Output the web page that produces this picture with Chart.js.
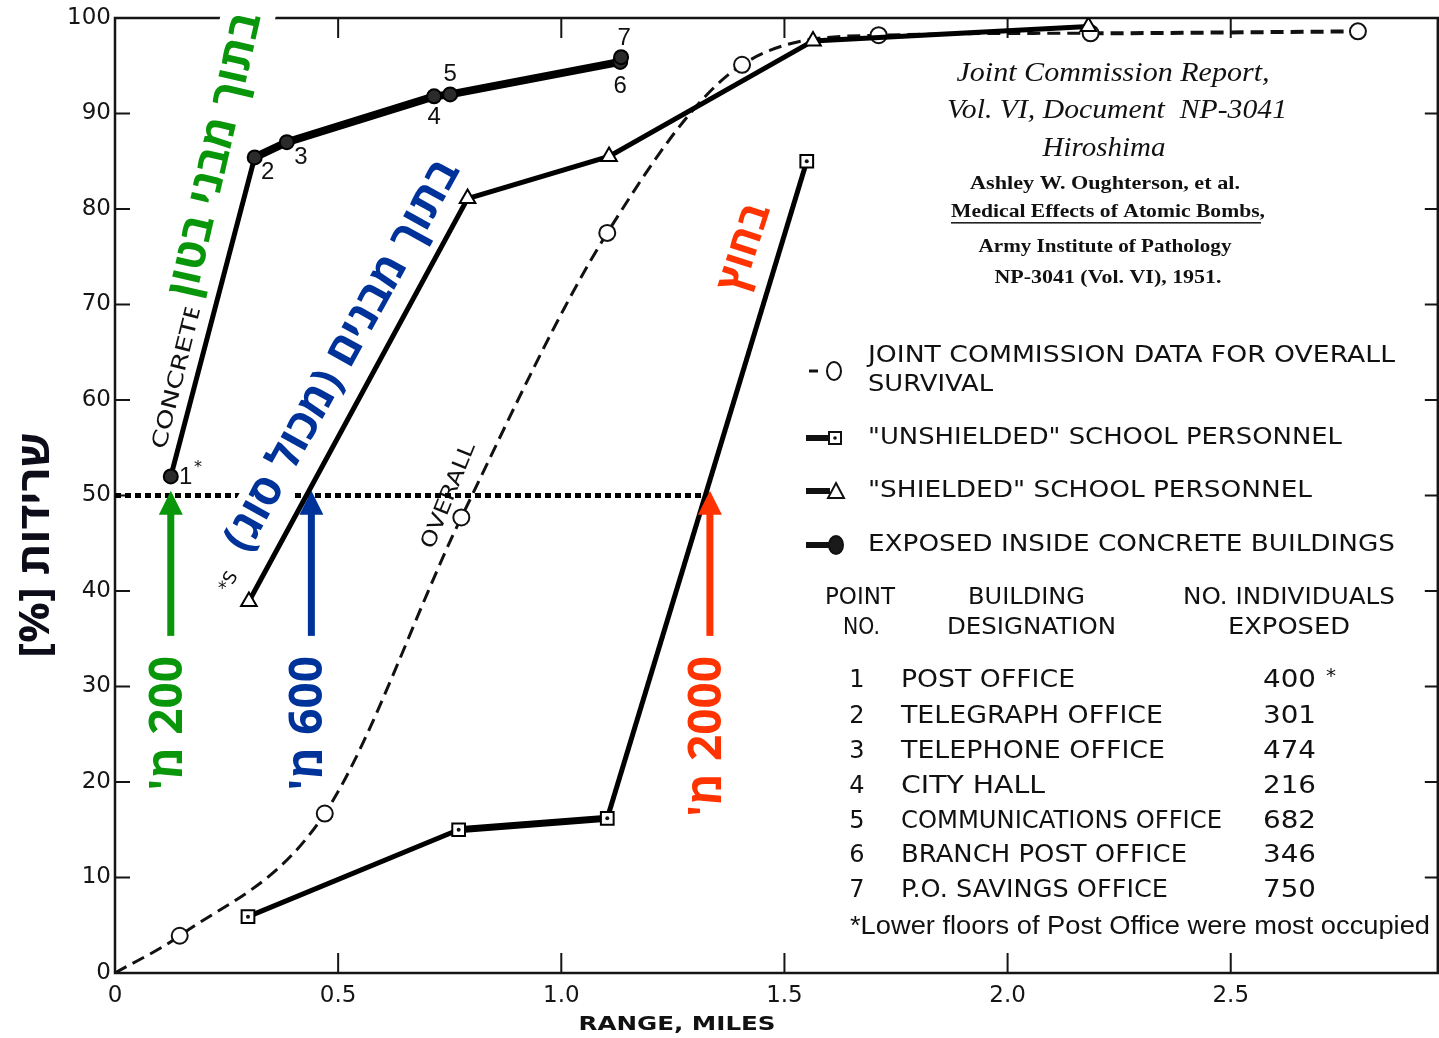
<!DOCTYPE html>
<html>
<head>
<meta charset="utf-8">
<script src="https://cdn.jsdelivr.net/npm/chart.js@4.4.0/dist/chart.umd.min.js"></script>
<style>
  html, body { margin: 0; padding: 0; background: #fff; }
</style>
</head>
<body>
<canvas id="chart" width="1439" height="1038"></canvas>
<script>
// survival (%) against range from ground zero, Hiroshima
const overallX = [0, 0.145, 0.47, 0.776, 1.103, 1.405, 1.711, 2.186, 2.785];
const overallY = [0, 3.9, 16.7, 47.7, 77.5, 95.1, 98.2, 98.4, 98.6];

const unshieldedX = [0.298, 0.77, 1.103, 1.55];
const unshieldedY = [5.9, 15.0, 16.2, 85.0];

const shieldedX = [0.30, 0.79, 1.107, 1.564, 2.181];
const shieldedY = [38.9, 81.1, 85.5, 97.6, 99.1];

const concreteX = [0.125, 0.313, 0.385, 0.715, 0.751, 1.132, 1.134];
const concreteY = [52.0, 85.4, 87.0, 91.8, 92.0, 95.4, 95.9];
const concreteNums = ["1", "2", "3", "4", "5", "6", "7"];

// 50% survival line and the ranges where it is reached
const halfX = [0, 1.331];
const halfY = [50, 50];
const arrowX = [0.125, 0.44, 1.333];
const arrowFrom = 35.3;
const arrowTo = 50.5;
const arrowLabels = ["200 מ'", "600 מ'", "2000 מ'"];

const xTicks = [0.5, 1.0, 1.5, 2.0, 2.5];
const yTicks = [10, 20, 30, 40, 50, 60, 70, 80, 90];
const xEdge = 2.964; // where the frame of the original plot ends

const pointNos = ["1", "2", "3", "4", "5", "6", "7"];
const buildings = ["POST OFFICE", "TELEGRAPH OFFICE", "TELEPHONE OFFICE", "CITY HALL",
  "COMMUNICATIONS OFFICE", "BRANCH POST OFFICE", "P.O. SAVINGS OFFICE"];
const exposed = ["400", "301", "474", "216", "682", "346", "750"];

const pts = (xs, ys) => xs.map((x, i) => ({ x: x, y: ys[i] }));

const GREEN = "#0a960a", BLUE = "#003399", RED = "#ff3300";
const HEB = "'Open Sans', 'DejaVu Sans', sans-serif";

// draw a (maybe rotated) string stretched to a given length
function label(ctx, str, x, y, o) {
  ctx.save();
  ctx.translate(x, y);
  ctx.rotate((o.angle || 0) * Math.PI / 180);
  ctx.font = o.font;
  ctx.direction = o.rtl ? "rtl" : "ltr";
  ctx.textAlign = o.align || "center";
  ctx.textBaseline = "middle";
  const w = ctx.measureText(str).width;
  const s = o.len ? o.len / w : 1;
  if (o.box) {
    ctx.fillStyle = "#fff";
    ctx.fillRect(-w * s / 2 - o.box[0], -o.box[1], w * s + 2 * o.box[0], 2 * o.box[1]);
  }
  ctx.scale(s, 1);
  ctx.fillStyle = o.color || "#111";
  ctx.fillText(str, 0, 0);
  ctx.restore();
}

const decor = {
  id: "decor",
  beforeDatasetsDraw(chart) {
    const { ctx, chartArea: a, scales: { x, y } } = chart;
    const right = x.getPixelForValue(xEdge);
    ctx.save();
    ctx.strokeStyle = "#151515";
    ctx.lineWidth = 2.5;
    ctx.strokeRect(a.left, a.top, right - a.left, a.bottom - a.top);
    ctx.lineWidth = 2;
    ctx.beginPath();
    xTicks.forEach(v => {
      const px = x.getPixelForValue(v);
      ctx.moveTo(px, a.bottom); ctx.lineTo(px, a.bottom - 20);
      ctx.moveTo(px, a.top); ctx.lineTo(px, a.top + 20);
    });
    yTicks.forEach(v => {
      const py = y.getPixelForValue(v);
      ctx.moveTo(a.left, py); ctx.lineTo(a.left + 15, py);
      ctx.moveTo(right, py); ctx.lineTo(right - 13, py);
    });
    ctx.stroke();
    ctx.restore();

    // small lettering along the curves
    const f = "21px 'DejaVu Sans', sans-serif";
    label(ctx, "CONCRETE", 178, 376, { font: f, angle: -76, len: 150 });
    label(ctx, "OVERALL", 449, 496, { font: f, angle: -68, len: 112 });
    label(ctx, "*S", 229, 582, { font: "18px 'DejaVu Sans', sans-serif", angle: -60 });
  },
  afterDatasetsDraw(chart) {
    const { ctx, scales: { x, y } } = chart;

    // dots inside the "unshielded" squares
    const mu = chart.getDatasetMeta(2);
    ctx.fillStyle = "#111";
    mu.data.forEach(p => { ctx.beginPath(); ctx.arc(p.x, p.y, 2, 0, Math.PI * 2); ctx.fill(); });

    // building numbers next to the concrete points
    const mc = chart.getDatasetMeta(0);
    const off = [[15, 1], [13, 15], [14, 15], [0, 21], [0, -20], [0, 24], [3, -19]];
    mc.data.forEach((p, i) => {
      label(ctx, concreteNums[i], p.x + off[i][0], p.y + off[i][1], { font: "24px 'Liberation Sans', sans-serif" });
    });
    label(ctx, "*", 198, 468, { font: "16px 'DejaVu Sans', sans-serif" });

    // arrows to the 50% line
    const cols = [GREEN, BLUE, RED];
    arrowX.forEach((v, i) => {
      const px = x.getPixelForValue(v);
      const y0 = y.getPixelForValue(arrowFrom), y1 = y.getPixelForValue(arrowTo);
      ctx.save();
      ctx.fillStyle = cols[i];
      ctx.fillRect(px - 3.5, y1 + 20, 7, y0 - y1 - 20);
      ctx.beginPath();
      ctx.moveTo(px, y1); ctx.lineTo(px + 12, y1 + 24); ctx.lineTo(px - 12, y1 + 24);
      ctx.closePath(); ctx.fill();
      ctx.restore();
      label(ctx, arrowLabels[i], px - 2, y0 + 20, { font: "bold 46px " + HEB, angle: -90, rtl: true, align: "right", color: cols[i] });
    });

    // hebrew captions
    label(ctx, "בתוך מבני בטון", 216, 155, { font: "bold 44px " + HEB, angle: -77, rtl: true, len: 290, color: GREEN, box: [10, 27] });
    label(ctx, "בתוך מבנים (מכול סוג)", 343, 356, { font: "bold 44px " + HEB, angle: -61, rtl: true, len: 440, color: BLUE, box: [4, 24] });
    label(ctx, "בחוץ", 745, 248, { font: "bold 42px " + HEB, angle: -72, rtl: true, len: 90, color: RED });
    label(ctx, "שרידות [%]", 37, 545, { font: "bold 42px " + HEB, angle: -90, rtl: true, len: 226, color: "#0d0d1a" });

    // axis title
    label(ctx, "RANGE, MILES", 677, 1025, { font: "bold 20px 'DejaVu Sans', sans-serif", len: 197 });

    // citation block
    const it = "italic 27px 'Liberation Serif', serif";
    const bd = "bold 19px 'Liberation Serif', serif";
    label(ctx, "Joint Commission Report,", 1113, 74, { font: it, len: 313 });
    label(ctx, "Vol. VI, Document  NP-3041", 1117, 111, { font: it, len: 340 });
    label(ctx, "Hiroshima", 1104, 149, { font: it, len: 123 });
    label(ctx, "Ashley W. Oughterson, et al.", 1105, 184, { font: bd, len: 270 });
    label(ctx, "Medical Effects of Atomic Bombs,", 1108, 212, { font: bd, len: 314 });
    ctx.fillStyle = "#222";
    ctx.fillRect(951, 222, 310, 1.6);
    label(ctx, "Army Institute of Pathology", 1105, 247, { font: bd, len: 253 });
    label(ctx, "NP-3041 (Vol. VI), 1951.", 1108, 278, { font: bd, len: 227 });

    // legend
    const lf = "23px 'DejaVu Sans', sans-serif";
    const L = (s, x0, yy, w) => label(ctx, s, x0, yy, { font: lf, align: "left", len: w });
    L("JOINT COMMISSION DATA FOR OVERALL", 868, 356, 527);
    L("SURVIVAL", 868, 385, 125);
    L("\"UNSHIELDED\" SCHOOL PERSONNEL", 868, 438, 474);
    L("\"SHIELDED\" SCHOOL PERSONNEL", 868, 491, 444);
    L("EXPOSED INSIDE CONCRETE BUILDINGS", 868, 545, 527);

    ctx.save();
    ctx.strokeStyle = "#111"; ctx.fillStyle = "#111";
    ctx.lineWidth = 3;
    ctx.beginPath(); ctx.moveTo(809, 371); ctx.lineTo(818, 371); ctx.stroke();
    ctx.lineWidth = 2;
    ctx.beginPath(); ctx.ellipse(834, 371, 7, 9, 0, 0, Math.PI * 2); ctx.stroke();
    ctx.lineWidth = 6;
    [438, 491, 545].forEach(yy => { ctx.beginPath(); ctx.moveTo(806, yy); ctx.lineTo(830, yy); ctx.stroke(); });
    ctx.lineWidth = 2;
    ctx.fillStyle = "#fff";
    ctx.fillRect(829, 432, 12, 12); ctx.strokeRect(829, 432, 12, 12);
    ctx.fillStyle = "#111";
    ctx.beginPath(); ctx.arc(835, 438, 1.8, 0, Math.PI * 2); ctx.fill();
    ctx.fillStyle = "#fff";
    ctx.beginPath(); ctx.moveTo(836, 483); ctx.lineTo(844, 498); ctx.lineTo(828, 498); ctx.closePath(); ctx.fill(); ctx.stroke();
    ctx.fillStyle = "#1a1a1a";
    ctx.beginPath(); ctx.ellipse(836, 545, 7, 9, 0, 0, Math.PI * 2); ctx.fill(); ctx.stroke();
    ctx.restore();

    // table of buildings
    L("POINT", 825, 598, 70);
    L("NO.", 843, 628, 37);
    L("BUILDING", 968, 598, 117);
    L("DESIGNATION", 947, 628, 169);
    L("NO. INDIVIDUALS", 1183, 598, 212);
    L("EXPOSED", 1228, 628, 122);
    const tf = "24px 'DejaVu Sans', sans-serif";
    const rowY = [681, 717, 752, 787, 822, 856, 891];
    const nameW = [174, 262, 264, 144, 321, 286, 267];
    rowY.forEach((yy, i) => {
      label(ctx, pointNos[i], 857, yy, { font: tf });
      label(ctx, buildings[i], 901, yy, { font: tf, align: "left", len: nameW[i] });
      label(ctx, exposed[i], 1263, yy, { font: tf, align: "left", len: 53 });
    });
    label(ctx, "*", 1331, 677, { font: "20px 'DejaVu Sans', sans-serif" });
    label(ctx, "*Lower floors of Post Office were most occupied", 850, 927,
      { font: "25px 'Liberation Sans', sans-serif", align: "left", len: 580 });
  }
};

const tickFont = { family: "'DejaVu Sans', sans-serif", size: 23 };

new Chart(document.getElementById("chart"), {
  type: "line",
  data: {
    datasets: [
      {
        label: "EXPOSED INSIDE CONCRETE BUILDINGS",
        data: pts(concreteX, concreteY),
        borderColor: "#000",
        borderWidth: 8,
        segment: { borderWidth: c => (c.p0DataIndex === 0 ? 5 : 8) },
        pointRadius: 7,
        pointBackgroundColor: "#2b2b2b",
        pointBorderColor: "#000",
        pointBorderWidth: 2,
        tension: 0
      },
      {
        label: "\"SHIELDED\" SCHOOL PERSONNEL",
        data: pts(shieldedX, shieldedY),
        borderColor: "#000",
        borderWidth: 5,
        pointStyle: "triangle",
        pointRadius: 9,
        pointBackgroundColor: "#fff",
        pointBorderColor: "#000",
        pointBorderWidth: 2,
        tension: 0
      },
      {
        label: "\"UNSHIELDED\" SCHOOL PERSONNEL",
        data: pts(unshieldedX, unshieldedY),
        borderColor: "#000",
        borderWidth: 5,
        segment: { borderWidth: c => (c.p0DataIndex === 1 ? 7 : 5) },
        pointStyle: "rect",
        pointRadius: 9,
        pointBackgroundColor: "#fff",
        pointBorderColor: "#000",
        pointBorderWidth: 2,
        tension: 0
      },
      {
        label: "JOINT COMMISSION DATA FOR OVERALL SURVIVAL",
        data: pts(overallX, overallY),
        borderColor: "#111",
        borderWidth: 3,
        borderDash: [13, 7],
        segment: { borderWidth: c => (c.p0DataIndex >= 7 ? 4 : 3) },
        cubicInterpolationMode: "monotone",
        tension: 0.4,
        pointRadius: overallX.map((v, i) => (i === 0 ? 0 : 8)),
        pointBackgroundColor: "#fff",
        pointBorderColor: "#111",
        pointBorderWidth: 2
      },
      {
        label: "50%",
        data: pts(halfX, halfY),
        borderColor: "#000",
        borderWidth: 5,
        borderDash: [6, 4],
        pointRadius: 0,
        tension: 0
      }
    ]
  },
  options: {
    responsive: false,
    animation: false,
    layout: { padding: { top: 18, right: 2, left: 0, bottom: 0 } },
    plugins: { legend: { display: false }, tooltip: { enabled: false } },
    scales: {
      x: {
        type: "linear",
        min: 0,
        max: 2.942,
        grid: { display: false, drawTicks: false },
        border: { display: false },
        ticks: {
          stepSize: 0.5,
          includeBounds: false,
          padding: 9,
          maxRotation: 0,
          color: "#151515",
          font: tickFont,
          callback: v => (v === 0 ? "0" : v.toFixed(1))
        },
        afterFit: s => { s.height = 65; }
      },
      y: {
        min: 0,
        max: 100,
        grid: { display: false, drawTicks: false },
        border: { display: false },
        ticks: { stepSize: 10, padding: 4, color: "#151515", font: tickFont },
        afterFit: s => { s.width = 115; }
      }
    }
  },
  plugins: [decor]
});
</script>
</body>
</html>
